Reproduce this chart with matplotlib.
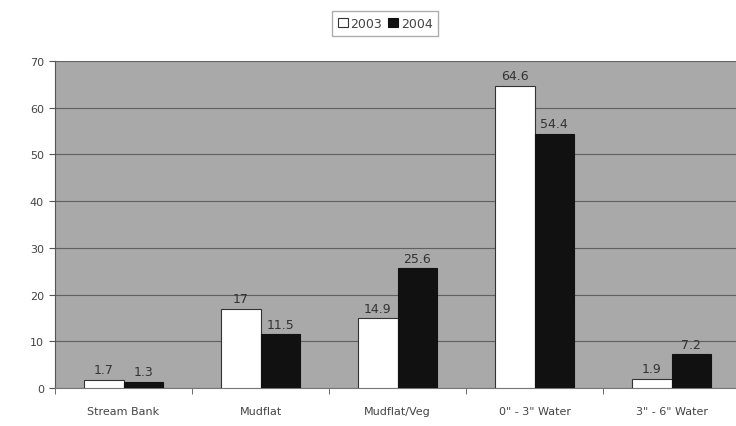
import matplotlib
matplotlib.use("Agg")
import matplotlib.pyplot as plt
import numpy as np

categories = ["Stream Bank", "Mudflat", "Mudflat/Veg", '0" - 3" Water', '3" - 6" Water']
vals_2003 = [1.7, 17, 14.9, 64.6, 1.9]
vals_2004 = [1.3, 11.5, 25.6, 54.4, 7.2]
yticks = [0, 10, 20, 30, 40, 50, 60, 70]

fig = plt.figure(figsize=(7.36, 4.27), dpi=100)
fig.patch.set_facecolor("white")
ax = fig.add_axes([55/736, 38/427, 685/736, 327/427])
ax.set_facecolor("#a9a9a9")

x = np.arange(len(categories))
w = 0.29
b1 = ax.bar(x - w/2, vals_2003, w, color="white", edgecolor="#333333", linewidth=0.8, label="2003", zorder=3)
b2 = ax.bar(x + w/2, vals_2004, w, color="#111111", edgecolor="#111111", linewidth=0.8, label="2004", zorder=3)

for rect, v in zip(list(b1) + list(b2), vals_2003 + vals_2004):
    ax.text(rect.get_x() + rect.get_width()/2, v + 0.8, f"{v:g}", ha="center", va="bottom",
            fontsize=9, color="#333333", zorder=4)

ax.set_xlim(-0.5, len(categories) - 0.5)
ax.set_ylim(0, 70)
ax.set_yticks(yticks)
ax.set_yticklabels([str(t) for t in yticks], fontsize=8, color="#444444")
ax.yaxis.grid(True, color="#606060", linewidth=0.8, zorder=1)
ax.set_axisbelow(True)

ax.set_xticks(x)
ax.set_xticklabels(categories, fontsize=8, color="#444444")
ax.tick_params(axis="x", length=0, pad=13)
ax.set_xticks(np.arange(-0.5, len(categories), 1), minor=True)
ax.tick_params(axis="x", which="minor", length=4, color="#555555")
ax.tick_params(axis="y", length=4, color="#555555", pad=4)

for s in ["top", "right"]:
    ax.spines[s].set_visible(False)
ax.spines["left"].set_color("#555555")
ax.spines["bottom"].set_color("#777777")

leg = fig.legend(handles=[b1, b2], labels=["2003", "2004"], loc="upper center",
                 bbox_to_anchor=(385/736, 1 - 6/427), ncol=2, fontsize=9, frameon=True,
                 fancybox=False, edgecolor="#999999", handlelength=0.8, handleheight=0.8,
                 handletextpad=0.2, columnspacing=0.5, borderpad=0.45)
for t in leg.get_texts():
    t.set_color("#444444")

fig.savefig("out.png", dpi=100)
